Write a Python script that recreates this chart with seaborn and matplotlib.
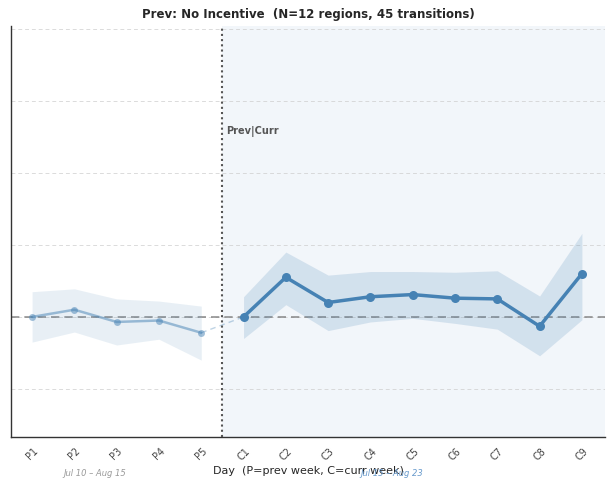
import matplotlib
matplotlib.use("Agg")
import matplotlib.pyplot as plt
import seaborn as sns
import pandas as pd
import numpy as np

sns.set_style("white")
plt.rcParams['font.family'] = ['DejaVu Sans']

prev_labels = ["P1", "P2", "P3", "P4", "P5"]
curr_labels = ["C1", "C2", "C3", "C4", "C5", "C6", "C7", "C8", "C9"]
prev_mean = [0.00, 0.10, -0.07, -0.05, -0.22]
prev_lo = [-0.35, -0.21, -0.39, -0.31, -0.60]
prev_hi = [0.35, 0.39, 0.25, 0.22, 0.15]
curr_mean = [0.00, 0.55, 0.20, 0.28, 0.31, 0.26, 0.25, -0.13, 0.60]
curr_lo = [-0.30, 0.17, -0.19, -0.07, -0.02, -0.09, -0.17, -0.54, -0.04]
curr_hi = [0.28, 0.90, 0.58, 0.63, 0.63, 0.62, 0.64, 0.29, 1.16]
ytick_vals = [-1, 0, 1, 2, 3, 4]
title = "Prev: No Incentive  (N=12 regions, 45 transitions)"
prev_range = "Jul 10 \u2013 Aug 15"
curr_range = "Jul 15 \u2013 Aug 23"

color = "#4682B4"
labels = prev_labels + curr_labels
xp = np.arange(len(prev_labels))
xc = np.arange(len(prev_labels), len(labels))
dfp = pd.DataFrame({"x": xp, "y": prev_mean})
dfc = pd.DataFrame({"x": xc, "y": curr_mean})

fig = plt.figure(figsize=(6.07, 4.88), dpi=100)
ax = fig.add_axes([0.018, 0.1045, 0.979, 0.8425])

split = len(prev_labels) - 0.5
ax.axvspan(split, 13.6, color="#dce6f2", alpha=0.35, lw=0, zorder=0)

for yv in ytick_vals:
    ax.axhline(yv, color="#cccccc", ls=(0, (4, 3)), lw=0.7, alpha=0.7, zorder=1)
ax.axhline(0, color="#777777", ls=(0, (5, 3)), lw=1.2, alpha=0.8, zorder=2)

ax.fill_between(xp, prev_lo, prev_hi, color=color, alpha=0.12, lw=0, zorder=2)
ax.fill_between(xc, curr_lo, curr_hi, color=color, alpha=0.18, lw=0, zorder=2)

sns.lineplot(data=dfp, x="x", y="y", ax=ax, color=color, alpha=0.5, lw=1.8,
             marker="o", markersize=5, markeredgewidth=0, zorder=3)
sns.lineplot(data=dfc, x="x", y="y", ax=ax, color=color, lw=2.5,
             marker="o", markersize=6.5, markeredgewidth=0, zorder=4)
ax.plot([xp[-1], xc[0]], [prev_mean[-1], curr_mean[0]], color=color, alpha=0.35,
        ls=(0, (4, 3)), lw=1.0, zorder=3)

ax.axvline(split, color="#555555", ls=(0, (1, 1.5)), lw=1.5, zorder=5)
ax.text(split + 0.08, 2.58, "Prev|Curr", fontsize=7, fontweight="bold",
        color="#555555", ha="left", va="center")

ax.set_xlim(-0.5, 13.55)
ax.set_ylim(-1.667, 4.04)
ax.set_xticks(np.arange(len(labels)))
ax.set_xticklabels(labels, rotation=45, fontsize=7, color="#444444")
ax.set_yticks(ytick_vals)
ax.set_yticklabels([])
ax.tick_params(axis="both", length=3, width=0.8, colors="#444444", direction="out")
ax.tick_params(axis="x", labelcolor="#444444")

for s in ["top", "right"]:
    ax.spines[s].set_visible(False)
for s in ["left", "bottom"]:
    ax.spines[s].set_color("#333333")
    ax.spines[s].set_linewidth(1.0)

ax.set_xlabel("Day  (P=prev week, C=curr week)", fontsize=8, labelpad=3)
ax.set_ylabel("")
ax.set_title(title, fontsize=8.5, fontweight="bold", pad=6)

fig.text(95 / 607, 1 - 474 / 488, prev_range, fontsize=6, style="italic",
         color="#999999", ha="center", va="center")
fig.text(392 / 607, 1 - 474 / 488, curr_range, fontsize=6, style="italic",
         color="#6699cc", ha="center", va="center")

fig.savefig("out.png", dpi=100)
